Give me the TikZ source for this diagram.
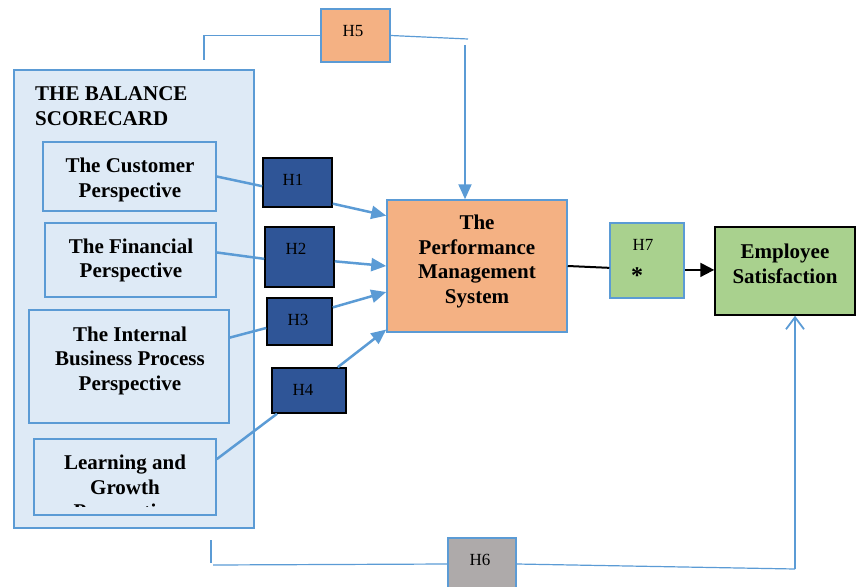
\documentclass[tikz,border=0pt]{standalone}
\usepackage{fontspec}
\setmainfont{Liberation Serif}
\usetikzlibrary{arrows.meta}
\definecolor{bsfill}{HTML}{DEEAF6}
\definecolor{bsline}{HTML}{5B9BD5}
\definecolor{hblue}{HTML}{2F5597}
\definecolor{orng}{HTML}{F4B183}
\definecolor{grn}{HTML}{A9D18E}
\definecolor{gry}{HTML}{AEAAAA}
\begin{document}
\begin{tikzpicture}[x=1pt,y=-1pt,
  bigtxt/.style={font=\fontsize{21}{24.5}\selectfont\bfseries, align=center, inner sep=0pt},
  persp/.style={draw=bsline, line width=1.5pt, fill=bsfill, inner sep=0pt},
  hbox/.style={draw=black, line width=1.5pt, fill=hblue, inner sep=0pt},
  obox/.style={draw=bsline, line width=1.5pt, inner sep=0pt},
  hlab/.style={font=\fontsize{17}{19}\selectfont, inner sep=0pt},
  blueline/.style={draw=bsline, line width=2.5pt},
  bluearrow/.style={blueline, -{Triangle[length=15pt,width=13pt]}},
  thinline/.style={draw=bsline, line width=1.2pt},
  blackline/.style={draw=black, line width=2pt}
]
\useasboundingbox (0,0) rectangle (856,586);

% Balanced scorecard container
\node[persp, minimum width=240, minimum height=458] (bsc) at (134,299) {};
\node[bigtxt, align=left, anchor=west] (title) at (35,106) {THE BALANCE\\SCORECARD};

% perspectives
\node[persp, minimum width=173, minimum height=69] (cust) at (129.5,176.5) {};
\node[bigtxt] (custt) at (130,180) {The Customer\\Perspective};
\node[persp, minimum width=171, minimum height=74] (fin) at (130.5,260) {};
\node[bigtxt] (fint) at (131,260.5) {The Financial\\Perspective};
\node[persp, minimum width=200, minimum height=113] (int) at (129,366.5) {};
\node[bigtxt] (intt) at (130,360.5) {The Internal\\Business Process\\Perspective};
\node[persp, minimum width=182, minimum height=76] (learn) at (125,477) {};
\begin{scope}
  \clip (36,441) rectangle (214,506);
  \node[bigtxt] (learnt) at (125,489) {Learning and\\Growth\\Perspective};
\end{scope}

% hypothesis boxes H1-H4
\node[hbox, minimum width=69, minimum height=49] (h1) at (297.5,182.5) {};
\node[hlab, anchor=center] (h1t) at (293,180) {H1};
\node[hbox, minimum width=69, minimum height=60] (h2) at (299.5,257) {};
\node[hlab] (h2t) at (296,249) {H2};
\node[hbox, minimum width=65, minimum height=47] (h3) at (299.5,321.5) {};
\node[hlab] (h3t) at (298,320) {H3};
\node[hbox, minimum width=74, minimum height=45] (h4) at (309,390.5) {};
\node[hlab] (h4t) at (303,390) {H4};

% performance management system
\node[obox, fill=orng, minimum width=180, minimum height=132] (perf) at (477,266) {};
\node[bigtxt] (perft) at (477,261.5) {The\\Performance\\Management\\System};

% H5
\node[obox, fill=orng, minimum width=69, minimum height=53] (h5) at (355.5,35.5) {};
\node[hlab] (h5t) at (353,31) {H5};

% H7
\node[obox, fill=grn, minimum width=74, minimum height=75] (h7) at (647,260.5) {};
\node[hlab] (h7t) at (643,245) {H7};
\node[font=\fontsize{24}{26}\selectfont\bfseries, inner sep=0pt] (h7s) at (637,276) {*};

% Employee satisfaction
\node[draw=black, line width=1.5pt, fill=grn, minimum width=140, minimum height=88, inner sep=0pt] (emp) at (785,271) {};
\node[bigtxt] (empt) at (785,264) {Employee\\Satisfaction};

% H6
\node[obox, fill=gry, minimum width=68, minimum height=52] (h6) at (482,564) {};
\node[hlab] (h6t) at (480,560) {H6};

% connectors perspectives -> H boxes -> PMS
\draw[blueline] (cust.east) -- (h1.186);
\draw[bluearrow] (h1.-31) -- (perf.151);
\draw[blueline] (fin.5) -- (h2.183);
\draw[bluearrow] (h2.-7) -- (perf.180);
\draw[blueline] (int.16) -- (h3.191);
\draw[bluearrow] (h3.23) -- (perf.196);
\draw[blueline] (learn.11) -- (h4.216);
\draw[bluearrow] (h4.39) -- (perf.215);

% H5 path
\coordinate (h5l) at (204,60);
\coordinate (h5r) at (468,39);
\coordinate (h5d) at (465,45);
\draw[thinline] (h5l) |- (h5.west);
\draw[thinline] (h5.east) -- (h5r);
\draw[draw=bsline, line width=2pt, -{Triangle[length=15pt,width=13pt]}] (h5d) -- (h5d |- perf.north);

% PMS -> H7 -> Employee
\draw[blackline] (perf.east) -- (h7.191);
\draw[blackline, -{Triangle[length=14pt,width=14pt]}] (h7.-14) -- (h7.-14 -| emp.west);

% H6 path
\coordinate (h6l) at (211,540);
\coordinate (h6c) at (211,563);
\coordinate (h6m) at (213,565);
\coordinate (h6r) at (795,569);
\draw[thinline] (h6l) -- (h6c);
\draw[thinline] (h6m) -- (h6.west);
\draw[thinline] (h6.east) -- (h6r);
\draw[draw=bsline, line width=1.8pt, -{Straight Barb[length=12pt,width=18pt]}] (h6r) -- (h6r |- emp.south);
\end{tikzpicture}
\end{document}
